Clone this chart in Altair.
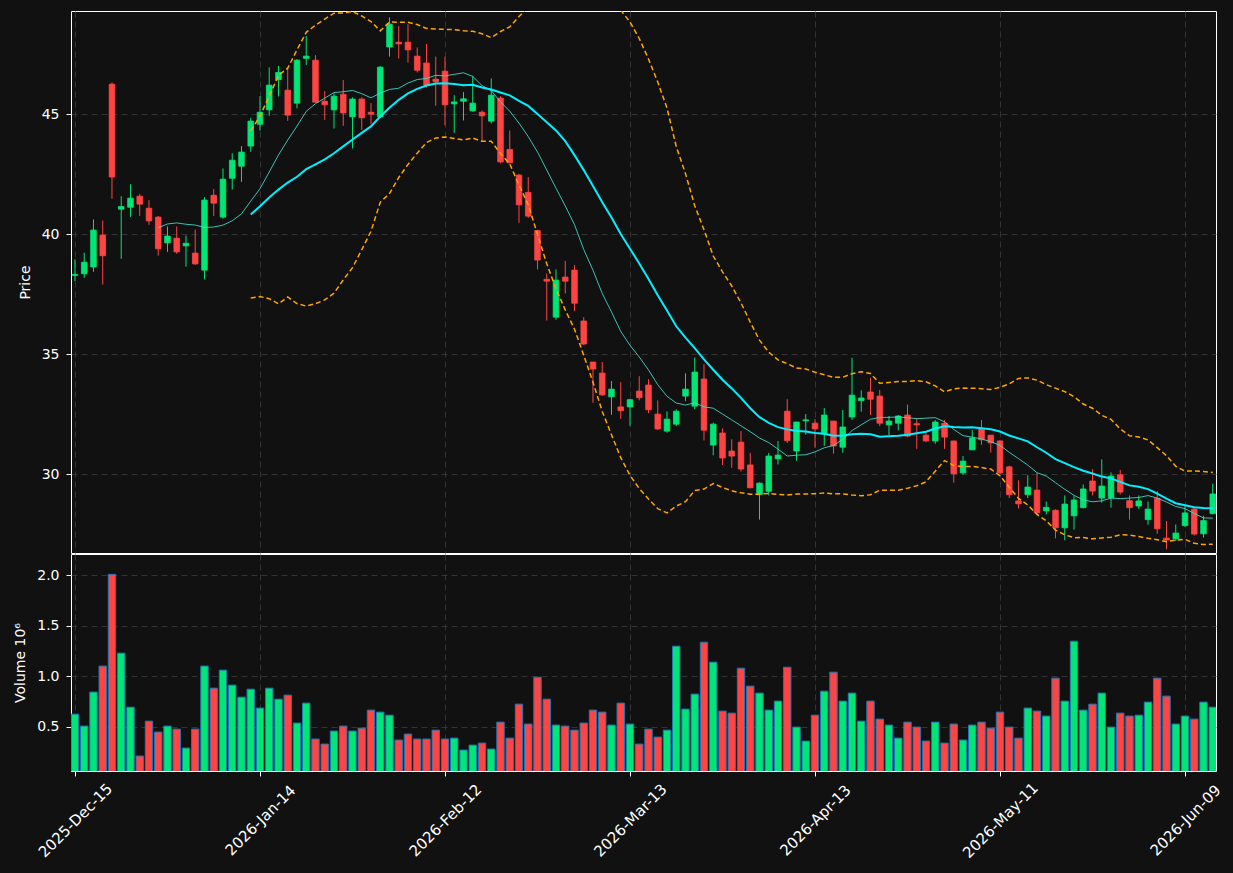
import altair as alt
import pandas as pd

# ---- data (bar index 0..123) ----
opens = [38.28, 38.35, 38.63, 39.96, 46.25, 41.04, 41.12, 41.58, 41.08, 40.71,
         39.64, 39.83, 39.51, 39.21, 38.50, 41.62, 40.71, 42.33, 42.83, 43.67,
         44.58, 45.18, 46.44, 46.00, 45.46, 47.33, 47.25, 45.54, 45.18, 45.83,
         44.89, 45.63, 45.08, 44.89, 47.80, 48.00, 48.00, 47.42, 47.13, 46.46,
         46.79, 45.43, 45.54, 45.14, 45.08, 44.71, 45.67, 43.53, 42.46, 41.74,
         40.15, 38.12, 36.54, 38.21, 38.50, 36.38, 34.67, 34.21, 33.22, 32.80,
         32.80, 33.46, 33.71, 32.50, 31.79, 32.08, 33.25, 32.83, 33.96, 31.21,
         31.71, 30.96, 31.33, 30.38, 29.14, 29.28, 30.64, 32.62, 30.96, 32.22,
         32.12, 31.67, 32.21, 31.12, 32.38, 33.06, 33.42, 33.25, 32.05, 32.12,
         32.46, 32.10, 31.62, 31.38, 32.12, 31.38, 30.05, 31.01, 31.88, 31.62,
         31.38, 30.30, 28.88, 29.14, 29.33, 28.47, 28.49, 27.76, 28.26, 28.60,
         29.71, 29.00, 29.01, 29.97, 28.89, 28.67, 28.10, 28.99, 27.33, 27.30,
         27.85, 28.54, 27.51, 28.35]
highs = [38.95, 39.22, 40.61, 40.57, 46.32, 41.58, 42.08, 41.67, 41.42, 40.75,
         40.32, 40.32, 39.94, 40.19, 41.54, 41.88, 42.74, 43.37, 43.67, 44.85,
         45.75, 46.95, 47.01, 46.88, 47.29, 48.26, 47.46, 45.96, 45.87, 46.42,
         45.70, 45.70, 45.46, 47.00, 49.03, 48.68, 48.75, 47.78, 47.92, 47.40,
         47.40, 45.79, 45.92, 46.58, 45.15, 46.49, 45.75, 44.32, 42.51, 42.38,
         40.19, 38.36, 38.53, 38.88, 38.71, 36.54, 34.67, 34.67, 33.88, 33.83,
         33.14, 34.08, 33.95, 33.07, 32.61, 32.70, 34.20, 34.86, 34.57, 32.14,
         31.90, 31.45, 31.79, 30.88, 29.65, 30.88, 31.38, 33.12, 32.17, 32.50,
         32.29, 32.75, 32.21, 32.67, 34.85, 33.49, 34.01, 33.51, 32.42, 32.46,
         32.90, 32.33, 31.79, 32.25, 32.25, 31.38, 30.75, 31.83, 32.25, 31.62,
         31.40, 30.35, 29.74, 29.95, 30.05, 28.85, 28.53, 29.11, 29.08, 29.57,
         30.20, 30.61, 30.07, 30.17, 29.11, 29.11, 28.86, 29.29, 28.04, 27.90,
         28.71, 28.60, 28.26, 29.60]
lows = [38.04, 38.18, 38.43, 37.90, 41.47, 38.97, 40.72, 40.76, 40.39, 39.10,
        39.26, 39.18, 38.64, 38.72, 38.11, 40.76, 40.64, 41.86, 42.18, 43.43,
        44.32, 44.93, 45.74, 44.72, 45.24, 47.05, 45.48, 44.76, 44.40, 44.51,
        43.57, 44.35, 44.58, 44.83, 47.40, 47.32, 47.15, 46.74, 46.11, 45.35,
        44.54, 44.22, 44.74, 45.10, 43.88, 44.61, 42.96, 42.96, 40.47, 40.68,
        38.53, 36.40, 36.43, 37.53, 36.79, 35.38, 32.97, 33.26, 32.47, 32.30,
        32.01, 33.07, 32.54, 31.83, 31.72, 32.00, 33.04, 32.70, 31.40, 30.78,
        30.38, 30.26, 30.11, 29.40, 28.10, 29.11, 30.40, 31.30, 30.55, 31.64,
        31.10, 31.17, 30.85, 30.89, 32.25, 32.60, 32.46, 32.00, 31.62, 31.82,
        31.54, 31.05, 31.33, 31.26, 31.05, 29.64, 29.97, 31.01, 31.22, 30.89,
        30.00, 29.00, 28.57, 29.00, 28.32, 28.32, 27.32, 27.24, 27.68, 28.57,
        29.11, 28.81, 28.60, 29.15, 28.10, 28.55, 27.89, 27.51, 26.87, 27.21,
        27.80, 27.44, 27.35, 28.32]
closes = [38.32, 38.83, 40.17, 39.10, 42.38, 41.15, 41.50, 41.25, 40.55, 39.39,
          39.92, 39.26, 39.62, 38.76, 41.42, 41.29, 42.29, 43.08, 43.42, 44.71,
          45.08, 46.21, 46.74, 44.96, 47.25, 47.42, 45.50, 45.39, 45.75, 45.05,
          45.63, 44.85, 45.00, 46.96, 48.75, 47.93, 47.68, 46.83, 46.21, 46.35,
          45.39, 45.51, 45.64, 45.46, 44.93, 45.79, 43.01, 42.97, 41.22, 40.75,
          38.92, 38.04, 38.08, 38.04, 37.12, 35.42, 34.38, 33.30, 33.54, 32.64,
          33.10, 33.18, 32.68, 31.88, 32.29, 32.62, 33.54, 34.25, 31.83, 32.08,
          30.67, 30.75, 30.21, 29.43, 29.62, 30.75, 30.79, 31.39, 32.17, 32.26,
          31.88, 32.46, 31.17, 31.96, 33.29, 33.17, 33.12, 32.12, 32.21, 32.42,
          31.58, 32.05, 31.38, 32.17, 31.54, 30.01, 30.54, 31.50, 31.43, 31.30,
          30.05, 29.14, 28.76, 29.46, 28.39, 28.61, 27.76, 28.75, 28.92, 29.38,
          29.29, 29.50, 29.92, 29.25, 28.60, 28.88, 28.54, 27.72, 27.25, 27.54,
          28.38, 27.50, 28.06, 29.17]
volumes = [0.625, 0.507, 0.843, 1.10, 2.007, 1.228, 0.694, 0.211, 0.556, 0.448,
           0.507, 0.477, 0.29, 0.477, 1.10, 0.882, 1.06, 0.912, 0.793, 0.872,
           0.685, 0.882, 0.773, 0.813, 0.537, 0.734, 0.379, 0.329, 0.458, 0.507,
           0.458, 0.487, 0.665, 0.645, 0.615, 0.369, 0.428, 0.379, 0.379, 0.467,
           0.379, 0.388, 0.27, 0.319, 0.339, 0.28, 0.546, 0.388, 0.724, 0.527,
           0.99, 0.773, 0.517, 0.507, 0.467, 0.537, 0.665, 0.645, 0.517, 0.734,
           0.527, 0.329, 0.477, 0.398, 0.467, 1.297, 0.675, 0.823, 1.336, 1.139,
           0.655, 0.635, 1.079, 0.902, 0.833, 0.665, 0.754, 1.089, 0.497, 0.359,
           0.615, 0.852, 1.04, 0.754, 0.833, 0.556, 0.754, 0.576, 0.517, 0.388,
           0.546, 0.497, 0.359, 0.546, 0.339, 0.527, 0.369, 0.517, 0.546, 0.487,
           0.645, 0.497, 0.388, 0.685, 0.655, 0.606, 0.981, 0.754, 1.346, 0.665,
           0.724, 0.833, 0.497, 0.635, 0.606, 0.615, 0.744, 0.981, 0.803, 0.527,
           0.606, 0.576, 0.744, 0.694]
tick_positions = [0, 20, 40, 60, 80, 100, 120]
tick_labels = ["2025-Dec-15", "2026-Jan-14", "2026-Feb-12", "2026-Mar-13",
               "2026-Apr-13", "2026-May-11", "2026-Jun-09"]

df = pd.DataFrame({
    "i": list(range(len(closes))),
    "open": opens, "high": highs, "low": lows, "close": closes, "volume": volumes,
})

BG = "#111111"
UP, DOWN = "#00e676", "#ff4444"
VUP, VDOWN = "#00ff80", "#ff4444"
FONT = "DejaVu Sans"
W = 1145
XDOM = [-0.43, 123.35]

color_dir = alt.Color("dir:N", scale=alt.Scale(domain=["up", "down"], range=[UP, DOWN]), legend=None)
vcolor_dir = alt.Color("dir:N", scale=alt.Scale(domain=["up", "down"], range=[VUP, VDOWN]), legend=None)

base = alt.Chart(df).transform_calculate(
    dir="datum.close >= datum.open ? 'up' : 'down'"
)

xscale = alt.Scale(domain=XDOM, nice=False, zero=False, padding=0)
x_top = alt.X("i:Q", scale=xscale,
              axis=alt.Axis(values=tick_positions, labels=False, ticks=False, domain=False,
                            title=None, grid=True, labelPadding=0, tickSize=0,
                            minExtent=0, maxExtent=0))
y_price = alt.Scale(domain=[26.71, 49.3], nice=False, zero=False, padding=0)

wicks = base.mark_rule(strokeWidth=1, clip=True).encode(
    x=x_top,
    y=alt.Y("low:Q", scale=y_price,
            axis=alt.Axis(values=[30, 35, 40, 45], title="Price", grid=True,
                          tickSize=5, labelPadding=7, titlePadding=9, domain=False)),
    y2="high:Q",
    color=color_dir,
)
bodies = base.mark_bar(size=5.6, strokeWidth=0.8, clip=True).encode(
    x=x_top, y=alt.Y("open:Q", scale=y_price), y2="close:Q",
    color=color_dir, stroke=color_dir,
)

ind = alt.Chart(df).transform_window(
    ma10="mean(close)", c10="count()", frame=[-9, 0], sort=[alt.SortField("i")]
).transform_window(
    ma20="mean(close)", sd20="stdev(close)", c20="count()", frame=[-19, 0], sort=[alt.SortField("i")]
).transform_calculate(
    upper="datum.ma20 + 2 * datum.sd20", lower="datum.ma20 - 2 * datum.sd20"
)

ma10 = ind.transform_filter("datum.c10 >= 10").mark_line(
    color="#40e0d0", strokeWidth=1, opacity=0.85, clip=True
).encode(x=x_top, y=alt.Y("ma10:Q", scale=y_price))
ma20 = ind.transform_filter("datum.c20 >= 20").mark_line(
    color="#00f0ff", strokeWidth=2, clip=True
).encode(x=x_top, y=alt.Y("ma20:Q", scale=y_price))
upper = ind.transform_filter("datum.c20 >= 20").mark_line(
    color="#ffa500", strokeWidth=1.5, strokeDash=[5, 3], clip=True
).encode(x=x_top, y=alt.Y("upper:Q", scale=y_price))
lower = ind.transform_filter("datum.c20 >= 20").mark_line(
    color="#ffa500", strokeWidth=1.5, strokeDash=[5, 3], clip=True
).encode(x=x_top, y=alt.Y("lower:Q", scale=y_price))

price = alt.layer(wicks, bodies, upper, lower, ma10, ma20).properties(width=W, height=542)

pos_js = "[" + ",".join(str(p) for p in tick_positions) + "]"
lab_js = "[" + ",".join("'" + s + "'" for s in tick_labels) + "]"
x_bot = alt.X("i:Q", scale=xscale,
              axis=alt.Axis(values=tick_positions, title=None, grid=True, domain=False,
                            labelExpr=lab_js + "[indexof(" + pos_js + ", datum.value)]",
                            labelAngle=315, labelAlign="center", labelBaseline="middle",
                            labelPadding=44, tickSize=5, labelFontSize=15,
                            labelOverlap=False, labelFlush=False))

vol = base.mark_bar(size=7.4, stroke="#1f77b4", strokeWidth=1, clip=True).encode(
    x=x_bot,
    y=alt.Y("volume:Q", scale=alt.Scale(domain=[0.063, 2.208], nice=False, zero=False, padding=0),
            axis=alt.Axis(values=[0.5, 1.0, 1.5, 2.0], format=".1f", title="Volume  10⁶",
                          grid=True, tickSize=5, labelPadding=7, titlePadding=9, domain=False)),
    y2=alt.datum(0),
    color=vcolor_dir,
).properties(width=W, height=217)

chart = alt.vconcat(price, vol, spacing=-3).properties(
    background=BG,
    padding={"left": 13, "top": 10, "right": 5, "bottom": 14},
).configure_view(
    stroke="#ffffff", strokeWidth=1, fill=BG
).configure_axis(
    labelFont=FONT, labelFontSize=14, labelColor="#ffffff",
    titleFont=FONT, titleFontSize=14, titleColor="#ffffff", titleFontWeight="normal",
    tickColor="#ffffff", tickWidth=1,
    gridColor="#3c3c3c", gridDash=[6, 4], gridWidth=0.8,
)

chart.save("out.html", embed_options={"renderer": "svg", "actions": False})

# make the page behind the chart dark as well
with open("out.html", "r", encoding="utf-8") as f:
    html = f.read()
html = html.replace("</head>", "<style>html,body{background:#111111;margin:0;overflow:hidden;}</style></head>", 1)
with open("out.html", "w", encoding="utf-8") as f:
    f.write(html)
